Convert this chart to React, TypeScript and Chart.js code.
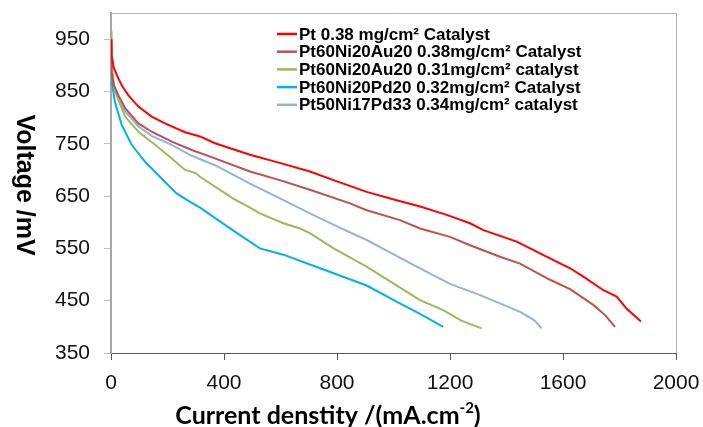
import React, { useEffect, useRef } from 'react';
import { Chart, registerables } from 'chart.js';

Chart.register(...registerables);

// ---- Data ----
const currentTicks = [0, 400, 800, 1200, 1600, 2000];
const voltageTicks = [350, 450, 550, 650, 750, 850, 950];

const seriesLabels = [
  'Pt 0.38 mg/cm² Catalyst',
  'Pt60Ni20Au20 0.38mg/cm² Catalyst',
  'Pt60Ni20Au20 0.31mg/cm² catalyst',
  'Pt60Ni20Pd20 0.32mg/cm² Catalyst',
  'Pt50Ni17Pd33 0.34mg/cm² catalyst',
];
const seriesColors = ['#ff0000', '#c0504d', '#9bbb59', '#00b0f0', '#95b3d7'];

const ptCurrent = [0, 2, 10, 26, 40, 61, 97, 144, 191, 262, 315, 368, 492, 600, 704, 800, 905, 1011, 1094, 1188, 1271, 1318, 1436, 1554, 1625, 1672, 1743, 1790, 1825, 1876];
const ptVoltage = [950, 920, 895, 875, 860, 843, 821, 802, 789, 772, 764, 751, 729, 713, 697, 678, 658, 642, 630, 614, 598, 585, 563, 531, 512, 496, 470, 458, 435, 410];

const au38Current = [0, 2, 10, 26, 50, 97, 144, 215, 286, 368, 492, 600, 704, 846, 905, 1023, 1094, 1200, 1271, 1377, 1448, 1554, 1625, 1672, 1707, 1750, 1784];
const au38Voltage = [940, 888, 862, 843, 818, 789, 773, 754, 738, 722, 697, 680, 662, 636, 623, 604, 588, 572, 556, 534, 521, 490, 472, 455, 442, 422, 400];

const au31Current = [0, 2, 14, 50, 97, 156, 215, 262, 300, 315, 433, 492, 527, 610, 669, 704, 788, 905, 1023, 1094, 1176, 1240, 1312];
const au31Voltage = [965, 900, 850, 802, 773, 748, 722, 700, 694, 687, 645, 628, 617, 598, 588, 579, 550, 515, 475, 451, 432, 412, 397];

const pd20Current = [0, 2, 14, 38, 73, 120, 173, 232, 280, 315, 433, 527, 610, 740, 800, 905, 1011, 1100, 1176];
const pd20Voltage = [905, 870, 830, 786, 748, 716, 687, 655, 639, 628, 584, 550, 538, 512, 500, 479, 448, 423, 400];

const pd33Current = [0, 2, 10, 26, 50, 97, 144, 215, 286, 368, 492, 600, 704, 800, 905, 964, 1082, 1200, 1300, 1377, 1450, 1500, 1524];
const pd33Voltage = [915, 890, 858, 838, 812, 783, 765, 748, 727, 709, 674, 645, 617, 592, 566, 549, 515, 482, 462, 445, 428, 412, 397];

const seriesCurrents = [ptCurrent, au38Current, au31Current, pd20Current, pd33Current];
const seriesVoltages = [ptVoltage, au38Voltage, au31Voltage, pd20Voltage, pd33Voltage];

const xTitleMain = 'Current denstity /(mA.cm';
const xTitleSup = '-2';
const xTitleEnd = ')';
const yTitle = 'Voltage /mV';

const ARIAL = '"Liberation Sans", Arial, sans-serif';

const decorPlugin = {
  id: 'decor',
  beforeDatasetsDraw(chart: any) {
    const { ctx, chartArea } = chart;
    ctx.save();
    ctx.strokeStyle = '#b3b3b3';
    ctx.lineWidth = 1;
    ctx.beginPath();
    ctx.moveTo(chartArea.left, chartArea.top + 0.5);
    ctx.lineTo(chartArea.right + 0.5, chartArea.top + 0.5);
    ctx.lineTo(chartArea.right + 0.5, chartArea.bottom);
    ctx.stroke();
    ctx.restore();
  },
  afterDraw(chart: any) {
    const { ctx } = chart;
    ctx.save();
    // Legend
    ctx.font = `bold 17px ${ARIAL}`;
    ctx.textBaseline = 'middle';
    ctx.textAlign = 'left';
    seriesLabels.forEach((label, i) => {
      const y = 34 + i * 17.7;
      ctx.strokeStyle = seriesColors[i];
      ctx.lineWidth = 2.5;
      ctx.beginPath();
      ctx.moveTo(277, y);
      ctx.lineTo(297, y);
      ctx.stroke();
      ctx.fillStyle = '#000';
      ctx.fillText(label, 299, y + 1);
    });

    // Y title (rotated clockwise)
    ctx.save();
    ctx.translate(24, 185);
    ctx.rotate(Math.PI / 2);
    ctx.font = `bold 25px ${ARIAL}`;
    ctx.textAlign = 'center';
    ctx.textBaseline = 'middle';
    ctx.fillStyle = '#000';
    ctx.fillText(yTitle, 0, 0);
    ctx.restore();

    // X title with superscript
    const mainFont = 'bold 25px Lato, "Open Sans", sans-serif';
    const supFont = 'bold 15px Lato, "Open Sans", sans-serif';
    ctx.font = mainFont;
    const w1 = ctx.measureText(xTitleMain).width;
    const w3 = ctx.measureText(xTitleEnd).width;
    ctx.font = supFont;
    const w2 = ctx.measureText(xTitleSup).width;
    const total = w1 + w2 + w3;
    let x = 328 - total / 2;
    const base = 424;
    ctx.textAlign = 'left';
    ctx.textBaseline = 'alphabetic';
    ctx.fillStyle = '#000';
    ctx.font = mainFont;
    ctx.fillText(xTitleMain, x, base);
    x += w1;
    ctx.font = supFont;
    ctx.fillText(xTitleSup, x, base - 11);
    x += w2;
    ctx.font = mainFont;
    ctx.fillText(xTitleEnd, x, base);
    ctx.restore();
  },
};

export default function App() {
  const canvasRef = useRef<HTMLCanvasElement | null>(null);

  useEffect(() => {
    if (!canvasRef.current) return;
    const datasets = seriesLabels.map((label, i) => ({
      label,
      data: seriesCurrents[i].map((c, j) => ({ x: c, y: seriesVoltages[i][j] })),
      borderColor: seriesColors[i],
      backgroundColor: seriesColors[i],
      borderWidth: 2,
      pointRadius: 0,
      showLine: true,
      tension: 0,
      fill: false,
    }));

    const zeroPad = (scale: any) => {
      scale.paddingTop = 0;
      scale.paddingBottom = 0;
      scale.paddingLeft = 0;
      scale.paddingRight = 0;
    };

    const chart = new Chart(canvasRef.current, {
      type: 'scatter',
      data: { datasets },
      options: {
        animation: false,
        responsive: false,
        devicePixelRatio: 1,
        layout: { padding: { left: 0, top: 13, right: 27, bottom: 0 } },
        plugins: {
          legend: { display: false },
          tooltip: { enabled: false },
        },
        scales: {
          x: {
            type: 'linear',
            min: 0,
            max: 2000,
            afterBuildTicks: (scale: any) => {
              scale.ticks = currentTicks.map((v) => ({ value: v }));
            },
            afterFit: (scale: any) => {
              scale.height = 74;
              zeroPad(scale);
            },
            ticks: {
              font: { family: ARIAL, size: 21 },
              color: '#111',
              padding: 11,
              maxRotation: 0,
              autoSkip: false,
              callback: (v: any) => String(v),
            },
            grid: {
              drawOnChartArea: false,
              drawTicks: true,
              tickLength: 7,
              color: '#595959',
            },
            border: { display: true, color: '#595959', width: 1 },
          },
          y: {
            type: 'linear',
            min: 350,
            max: 1000,
            afterBuildTicks: (scale: any) => {
              scale.ticks = voltageTicks.map((v) => ({ value: v }));
            },
            afterFit: (scale: any) => {
              scale.width = 111;
              zeroPad(scale);
            },
            ticks: {
              font: { family: ARIAL, size: 21 },
              color: '#111',
              padding: 14,
              autoSkip: false,
              callback: (v: any) => String(v),
            },
            grid: {
              drawOnChartArea: false,
              drawTicks: true,
              tickLength: 7,
              color: '#bfbfbf',
            },
            border: { display: true, color: '#a6a6a6', width: 2 },
          },
        },
      },
      plugins: [decorPlugin],
    });
    return () => chart.destroy();
  }, []);

  return (
    <div style={{ position: 'absolute', left: 0, top: 0, width: 703, height: 427, background: '#fff' }}>
      <canvas ref={canvasRef} width={703} height={427} style={{ width: 703, height: 427, display: 'block' }} />
    </div>
  );
}
